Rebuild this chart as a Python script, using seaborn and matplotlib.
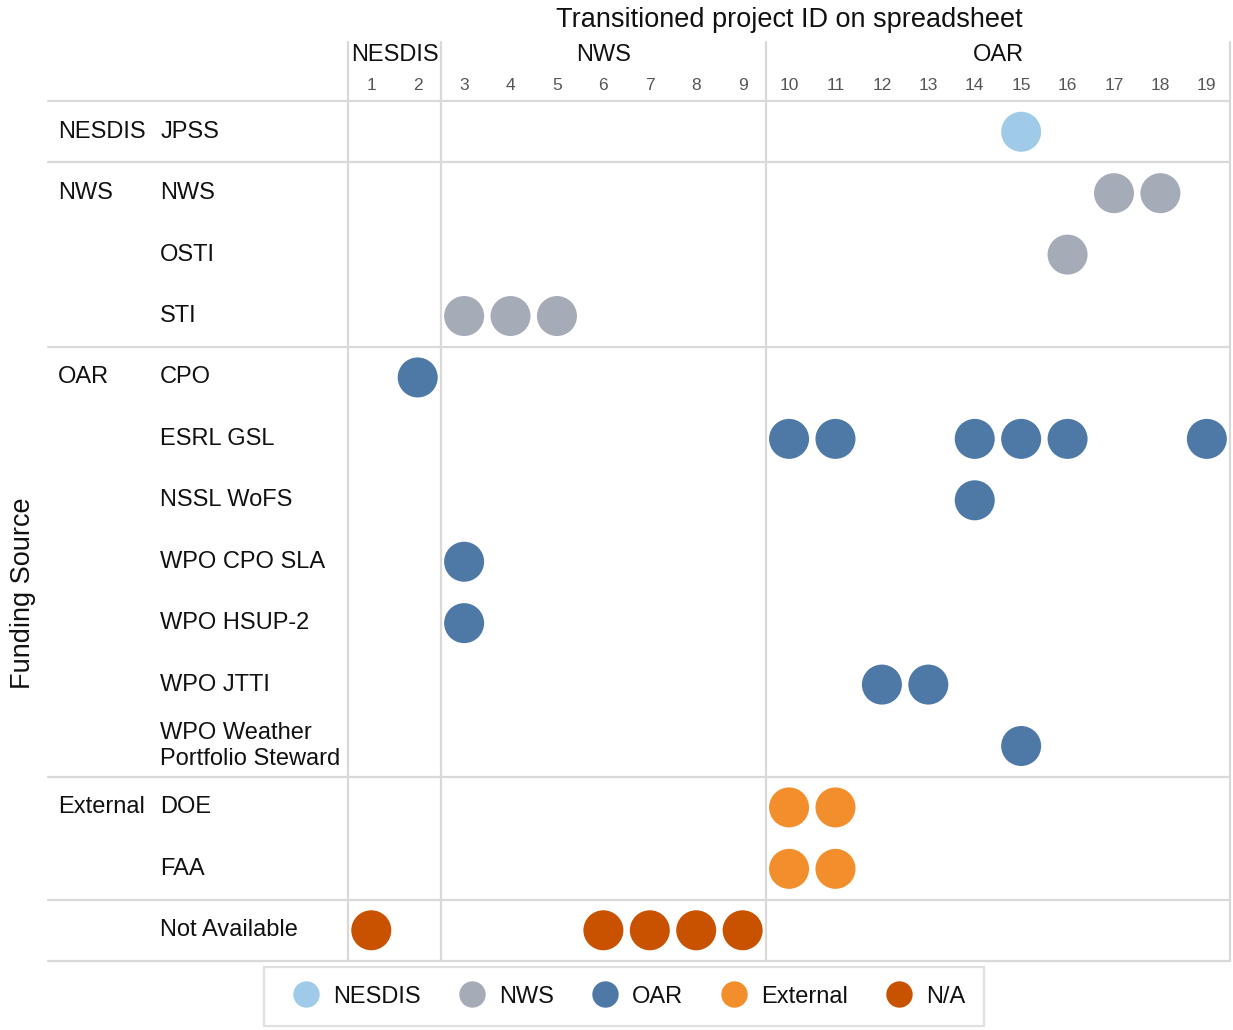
import pandas as pd
import matplotlib.pyplot as plt
import seaborn as sns
from matplotlib.lines import Line2D

# Data
rows = ["JPSS", "NWS", "OSTI", "STI", "CPO", "ESRL GSL", "NSSL WoFS",
        "WPO CPO SLA", "WPO HSUP-2", "WPO JTTI",
        "WPO Weather\nPortfolio Steward", "DOE", "FAA", "Not Available"]
groups = {"NESDIS": "JPSS", "NWS": "NWS", "OAR": "CPO", "External": "DOE"}
project_ids = list(range(1, 20))
id_groups = [("NESDIS", 1, 2), ("NWS", 3, 9), ("OAR", 10, 19)]

point_row = (["JPSS"] + ["NWS"] * 2 + ["OSTI"] + ["STI"] * 3 + ["CPO"]
             + ["ESRL GSL"] * 6 + ["NSSL WoFS"] + ["WPO CPO SLA"] + ["WPO HSUP-2"]
             + ["WPO JTTI"] * 2 + ["WPO Weather\nPortfolio Steward"]
             + ["DOE"] * 2 + ["FAA"] * 2 + ["Not Available"] * 5)
point_id = ([15] + [17, 18] + [16] + [3, 4, 5] + [2]
            + [10, 11, 14, 15, 16, 19] + [14] + [3] + [3]
            + [12, 13] + [15]
            + [10, 11] + [10, 11] + [1, 6, 7, 8, 9])
point_src = (["NESDIS"] + ["NWS"] * 6 + ["OAR"] * 13
             + ["External"] * 4 + ["N/A"] * 5)

palette = {"NESDIS": "#A0CBE8", "NWS": "#A5ACB8", "OAR": "#4E79A7",
           "External": "#F28E2B", "N/A": "#C85200"}

df = pd.DataFrame({"row": point_row, "id": point_id, "source": point_src})
df["y"] = df["row"].map({r: i + 1 for i, r in enumerate(rows)})

sns.set_style("white")
plt.rcParams["font.family"] = ["Liberation Sans", "DejaVu Sans"]

fig = plt.figure(figsize=(12.33, 10.30), dpi=100)
ax = fig.add_axes([0.2823, 0.0670, 0.7153, 0.8349])

sns.scatterplot(data=df, x="id", y="y", hue="source", palette=palette,
                hue_order=list(palette), s=830, linewidth=0, ax=ax,
                legend=False, zorder=3)

ax.set_xlim(0.5, 19.5)
ax.set_ylim(14.5, 0.5)
ax.set_xticks([])
ax.set_yticks([])
ax.set_xlabel("")
ax.set_ylabel("")
for s in ax.spines.values():
    s.set_visible(False)

line_c = "#d9d9d9"
txt_c = "#111111"
# horizontal group separators
for yb in [0.5, 1.5, 4.5, 11.5, 13.5, 14.5]:
    ax.axhline(yb, xmin=-0.34, xmax=1.0, color=line_c, lw=1.6, clip_on=False, zorder=1)
# vertical separators
for xb in [0.5, 2.5, 9.5, 19.5]:
    ax.axvline(xb, ymin=0, ymax=1.069, color=line_c, lw=1.6, clip_on=False, zorder=1)

# column numbers and group headers
tr = ax.get_xaxis_transform()
for pid in project_ids:
    ax.text(pid, 1.018, str(pid), transform=tr, ha="center", va="center",
            fontsize=12.5, color="#555555")
for name, a, b in id_groups:
    ax.text((a + b) / 2, 1.053, name, transform=tr, ha="center", va="center",
            fontsize=17, color=txt_c)
ax.text(10, 1.094, "Transitioned project ID on spreadsheet", transform=tr,
        ha="center", va="center", fontsize=19.5, color=txt_c)

# row labels
ytr = ax.get_yaxis_transform()
for i, r in enumerate(rows):
    ax.text(-0.213, i + 1, r, transform=ytr, ha="left", va="center",
            fontsize=17, color=txt_c, linespacing=1.25)
for g, r in groups.items():
    ax.text(-0.329, rows.index(r) + 1, g, transform=ytr, ha="left", va="center",
            fontsize=17, color=txt_c)

fig.text(0.019, 0.424, "Funding Source", rotation=90, ha="center", va="center",
         fontsize=19.5, color=txt_c)

handles = [Line2D([], [], marker="o", ls="", markersize=19, markeredgewidth=0,
                  color=c, label=k) for k, c in palette.items()]
leg = fig.legend(handles=handles, loc="center", bbox_to_anchor=(0.506, 0.0325),
                 ncol=5, frameon=True, fontsize=17, handletextpad=0.15,
                 columnspacing=1.15, borderpad=0.8, fancybox=False)
for t in leg.get_texts():
    t.set_color(txt_c)
leg.get_frame().set_edgecolor("#d9d9d9")
leg.get_frame().set_linewidth(1.6)

fig.savefig("out.png", dpi=100)
